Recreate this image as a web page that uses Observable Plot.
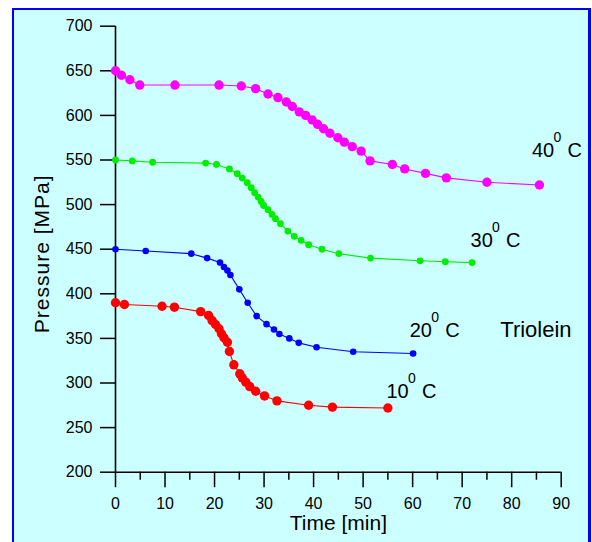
<!DOCTYPE html>
<html><head><meta charset="utf-8">
<script src="https://cdn.jsdelivr.net/npm/d3@7"></script>
<script src="https://cdn.jsdelivr.net/npm/@observablehq/plot@0.6"></script>
<style>
html,body{margin:0;padding:0;background:#fff;overflow:hidden;width:592px;height:542px;}
#frame{position:absolute;left:12px;top:8px;width:574px;height:560px;background:#ccffff;border-style:solid;border-color:#0000ff;border-width:2px 3px 2px 2.5px;}
#chart{position:absolute;left:0;top:0;}
</style></head><body>
<div id="frame"></div><div id="chart"></div>
<script>
// ---- data ----
const t40 = [0, 1.2, 2.9, 4.9, 12, 20.9, 25.4, 28.3, 30.8, 32.8, 34.5, 35.7, 37.1, 38.4, 39.7, 40.8, 42, 43.3, 44.9, 46.2, 47.8, 49.6, 51.4, 55.9, 58.4, 62.6, 66.8, 75, 85.6];
const p40 = [650, 645, 640, 634, 634, 634, 633, 630, 624, 620, 615, 610, 604, 600, 595, 590, 585, 580, 575, 570, 565, 560, 549, 545, 540, 535, 530, 525, 522];

const t30 = [0, 3.4, 7.5, 18.2, 20.4, 23.0, 24.6, 25.6, 26.6, 27.4, 28.1, 28.8, 29.4, 29.9, 30.8, 31.6, 32.3, 33.3, 34.8, 36.1, 37.5, 39.0, 41.7, 45.1, 51.5, 61.5, 66.6, 72];
const p30 = [550, 549, 547.5, 546.5, 545, 540, 534.6, 529.7, 524.5, 519, 513.3, 508.4, 503.6, 499, 494.3, 489, 484.2, 478.6, 470.3, 464.4, 460, 455, 450, 445, 440, 437, 436, 435];

const t20 = [0, 6.1, 15.3, 18.5, 21.1, 21.9, 22.6, 23.2, 25, 26.7, 28.5, 30.5, 32, 33.1, 35.1, 37, 40.6, 48, 60.1];
const p20 = [450, 448, 445, 440, 435, 430, 426, 421, 405, 390, 375, 366, 360, 355, 350, 345, 340, 335, 333];

const t10 = [0, 1.8, 9.4, 11.9, 17.2, 18.8, 19.5, 20.2, 20.9, 21.4, 21.9, 22.6, 23.0, 23.9, 25.1, 25.6, 26.3, 27.1, 28.3, 30.1, 32.6, 39, 43.8, 55];
const p10 = [390, 388, 386, 385, 380, 375.7, 370, 365.6, 360.8, 355.2, 350.7, 345.7, 335.3, 320.4, 310.3, 305.8, 301, 296, 290.8, 285.5, 280, 275, 273, 272];

const seriesNames = ["40", "30", "20", "10"];
const seriesColors = ["#ff00ff", "#00ee00", "#0000ff", "#ff0000"];
const seriesRadius = [4.7, 3.4, 3.3, 4.7];

// label anchors (data units): left edge of the number, vertical middle
const labelT = [84.1, 71.7, 59.4, 54.7];
const labelP = [560.3, 459.4, 358.5, 290.1];

const noteText = "Triolein";
const noteT = 77.7, noteP = 360;

const xMajor = [0, 10, 20, 30, 40, 50, 60, 70, 80, 90];
const xMinor = [5, 15, 25, 35, 45, 55, 65, 75, 85];
const yMajor = [200, 250, 300, 350, 400, 450, 500, 550, 600, 650, 700];

const xTitle = "Time [min]";
const yTitle = "Pressure [MPa]";

// ---- build tables ----
const allT = [t40, t30, t20, t10], allP = [p40, p30, p20, p10];
const series = seriesNames.map((name, i) => ({
  name, color: seriesColors[i], r: seriesRadius[i],
  data: allT[i].map((t, j) => ({t, p: allP[i][j]}))
}));
const labels = seriesNames.map((name, i) => ({name, t: labelT[i], p: labelP[i]}));

const font = "'Liberation Sans', Arial, Helvetica, sans-serif";

const marks = [];
for (const s of series) {
  marks.push(Plot.line(s.data, {x: "t", y: "p", stroke: s.color, strokeWidth: 1.1}));
  marks.push(Plot.dot(s.data, {x: "t", y: "p", r: s.r, fill: s.color}));
}

const plot = Plot.plot({
  width: 592, height: 542,
  marginLeft: 115, marginRight: 31.3, marginTop: 25.7, marginBottom: 70.3,
  x: {domain: [0, 90], axis: null},
  y: {domain: [200, 700], axis: null},
  style: {background: "transparent", fontFamily: font, fontSize: "16px", color: "#000", overflow: "visible"},
  marks: [
    Plot.axisY({ticks: yMajor, tickSize: 15, tickPadding: 8, strokeWidth: 1.5, tickFormat: d => String(d), label: null, fontSize: 16}),
    Plot.axisX({ticks: xMajor, tickSize: 15.5, tickPadding: 10, strokeWidth: 1.5, tickFormat: d => String(d), label: null, fontSize: 16}),
    Plot.axisX({ticks: xMinor, tickSize: 8, strokeWidth: 1.5, tickFormat: () => "", label: null}),
    Plot.ruleX([0], {y1: 200, y2: 700, strokeWidth: 1.6}),
    Plot.ruleY([200], {x1: 0, x2: 90, strokeWidth: 1.6}),
    ...marks,
    Plot.text(labels, {x: "t", y: "p", text: "name", textAnchor: "start", lineAnchor: "middle", fontSize: 20}),
    Plot.text(labels, {x: "t", y: "p", text: () => "0", textAnchor: "start", lineAnchor: "middle", fontSize: 14, dx: 21.5, dy: -13}),
    Plot.text(labels, {x: "t", y: "p", text: () => "C", textAnchor: "start", lineAnchor: "middle", fontSize: 20, dx: 35.5}),
    Plot.text([noteText], {x: () => noteT, y: () => noteP, text: d => d, textAnchor: "start", lineAnchor: "middle", fontSize: 22}),
    Plot.text([xTitle], {frameAnchor: "bottom", text: d => d, textAnchor: "middle", lineAnchor: "middle", dy: 50.9, fontSize: 21}),
    Plot.text([yTitle], {frameAnchor: "left", text: d => d, textAnchor: "middle", lineAnchor: "middle", rotate: -90, dx: -73.4, dy: 4.6, fontSize: 21})
  ]
});
d3.select(plot).selectAll("text").filter(function() { return this.textContent === yTitle; })
  .attr("letter-spacing", "1px");
document.getElementById("chart").appendChild(plot);
</script>
</body></html>
